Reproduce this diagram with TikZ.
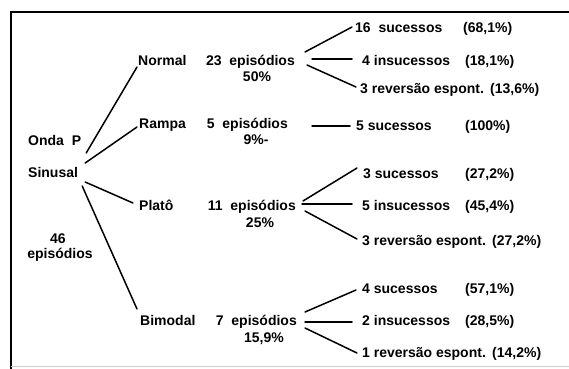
\documentclass[tikz,border=0pt]{standalone}
\usepackage{fontspec}
\setmainfont{Liberation Sans}
\tikzset{
  lbl/.style={font=\bfseries\fontsize{14}{16}\selectfont, inner sep=0pt, text height=10pt, text depth=0pt, anchor=west},
  lblc/.style={lbl, anchor=center},
  lble/.style={lbl, anchor=east},
  conn/.style={line width=1.5pt, line cap=round},
  frameline/.style={line width=2pt}
}
\begin{document}
\begin{tikzpicture}[x=1pt,y=-1pt]
\useasboundingbox (0,0) rectangle (569,368);
\fill[white] (0,0) rectangle (569,368);
\draw[frameline] (11,369) -- (11,12) -- (570,12);
\draw[gray!40, line width=0.8pt] (11,366.5) -- (569,366.5);

% root
\node[lbl] (onda) at (28,140) {Onda\ \ P};
\node[lbl] (sinusal) at (28,172) {Sinusal};
\node[lblc] (n46) at (58,238) {46};
\node[lblc] (ep46) at (60,253) {episódios};

% level 1
\node[lbl] (normal) at (138,60) {Normal};
\node[lbl] (rampa) at (139,123) {Rampa};
\node[lbl] (plato) at (139,205) {Platô};
\node[lbl] (bimodal) at (140,320) {Bimodal};

% episodes
\node[lble] (epN) at (295,60) {23\ \ episódios};
\node[lblc] (pN) at (257,76) {50\%};
\node[lble] (epR) at (288,123) {5\ \ episódios};
\node[lblc] (pR) at (256,139) {9\%-};
\node[lble] (epP) at (296,205) {11\ \ episódios};
\node[lblc] (pP) at (260,222) {25\%};
\node[lble] (epB) at (297,320) {7\ \ episódios};
\node[lblc] (pB) at (264,337) {15,9\%};

% leaves
\node[lbl] (n1) at (355,27) {16\ \ sucessos};
\node[lbl] (n2) at (362,60) {4 insucessos};
\node[lbl] (n3) at (360,88) {3 reversão espont.};
\node[lbl] (r1) at (356,125) {5 sucessos};
\node[lbl] (p1) at (363,173) {3 sucessos};
\node[lbl] (p2) at (362,205) {5 insucessos};
\node[lbl] (p3) at (362,240) {3 reversão espont.};
\node[lbl] (b1) at (362,288) {4 sucessos};
\node[lbl] (b2) at (362,320) {2 insucessos};
\node[lbl] (b3) at (362,352) {1 reversão espont.};

% percentages
\node[lbl] (q1) at (463,27) {(68,1\%)};
\node[lbl] (q2) at (465,60) {(18,1\%)};
\node[lbl] (q3) at (490,88) {(13,6\%)};
\node[lbl] (q4) at (465,125) {(100\%)};
\node[lbl] (q5) at (465,173) {(27,2\%)};
\node[lbl] (q6) at (465,205) {(45,4\%)};
\node[lbl] (q7) at (492,240) {(27,2\%)};
\node[lbl] (q8) at (465,288) {(57,1\%)};
\node[lbl] (q9) at (465,320) {(28,5\%)};
\node[lbl] (q10) at (492,352) {(14,2\%)};

% root connectors
\draw[conn] ([shift={(8,-19)}]sinusal.east) -- ([shift={(-1,7)}]normal.west);
\draw[conn] ([shift={(7,-9)}]sinusal.east) -- ([shift={(-2,4)}]rampa.west);
\draw[conn] ([shift={(7,10)}]sinusal.east) -- ([shift={(-6,-2)}]plato.west);
\draw[conn] ([shift={(4,14)}]sinusal.east) -- ([shift={(-3,-11)}]bimodal.west);

% normal group
\draw[conn] ([shift={(10,-8)}]epN.east) -- ([shift={(-3,0)}]n1.west);
\draw[conn] ([shift={(17,-1)}]epN.east) -- ([shift={(-10,-1)}]n2.west);
\draw[conn] ([shift={(12,5)}]epN.east) -- ([shift={(-4,-1)}]n3.west);

% rampa
\draw[conn] ([shift={(24,3)}]epR.east) -- ([shift={(-6,1)}]r1.west);

% plato group
\draw[conn] ([shift={(7,-4)}]epP.east) -- ([shift={(-6,-5)}]p1.west);
\draw[conn] ([shift={(6,-1)}]epP.east) -- ([shift={(-10,-1)}]p2.west);
\draw[conn] ([shift={(9,6)}]epP.east) -- ([shift={(-5,-1)}]p3.west);

% bimodal group
\draw[conn] ([shift={(8,-8)}]epB.east) -- ([shift={(-6,2)}]b1.west);
\draw[conn] ([shift={(8,2)}]epB.east) -- ([shift={(-10,2)}]b2.west);
\draw[conn] ([shift={(8,8)}]epB.east) -- ([shift={(-5,1)}]b3.west);
\end{tikzpicture}
\end{document}
